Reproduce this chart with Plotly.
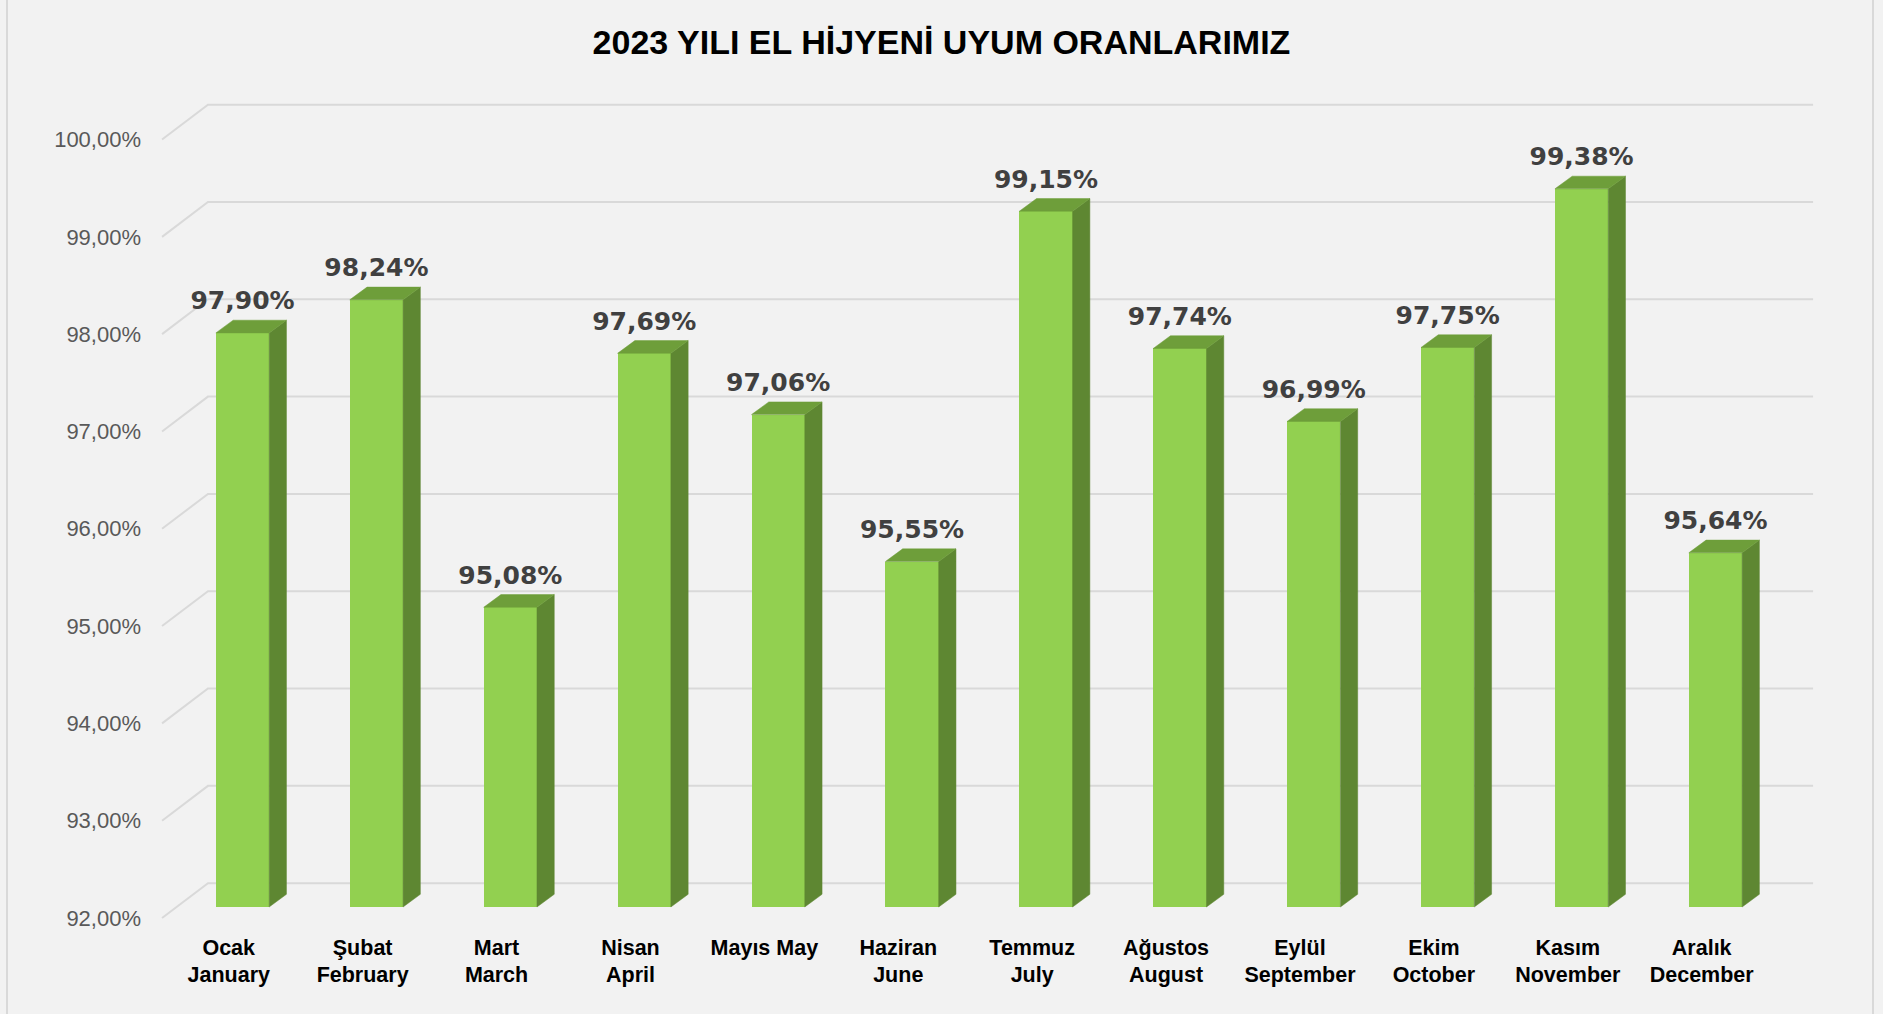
import plotly.graph_objects as go

# ---- data ----
months_tr = ["Ocak", "Şubat", "Mart", "Nisan", "Mayıs", "Haziran", "Temmuz",
             "Ağustos", "Eylül", "Ekim", "Kasım", "Aralık"]
months_en = ["January", "February", "March", "April", "May", "June", "July",
             "August", "September", "October", "November", "December"]
rates = [97.90, 98.24, 95.08, 97.69, 97.06, 95.55, 99.15, 97.74, 96.99, 97.75, 99.38, 95.64]
y_ticks = [92, 93, 94, 95, 96, 97, 98, 99, 100]
title_text = "2023 YILI EL HİJYENİ UYUM ORANLARIMIZ"

# ---- 3D look parameters (in axis units) ----
HW = 0.199        # half width of the front face
DDX = 0.129       # bar depth, horizontal
DDY = 0.1305      # bar depth, vertical
DFRONT = 0.113    # offset of the bar front from the front plane
WALL_DX = 0.343   # floor depth horizontal
WALL_DY = 0.358   # floor depth vertical
GRID_X0 = -0.601
GRID_X1 = 11.729
Y_BASE = y_ticks[0]

FRONT = "#92D050"
SIDE = "#5E8732"
TOP = "#6E9E3A"
GRID = "#D9D9D9"

xs = list(range(len(rates)))

fig = go.Figure()

# front faces
fig.add_trace(go.Bar(x=xs, y=[v - Y_BASE for v in rates], base=Y_BASE + DFRONT,
                     width=2 * HW, marker=dict(color=FRONT, line=dict(width=0)),
                     showlegend=False, hoverinfo="skip"))

# side faces
sx, sy = [], []
for i, v in zip(xs, rates):
    b = Y_BASE + DFRONT
    tp = v + DFRONT
    sx += [i + HW, i + HW + DDX, i + HW + DDX, i + HW, i + HW, None]
    sy += [b, b + DDY, tp + DDY, tp, b, None]
fig.add_trace(go.Scatter(x=sx, y=sy, mode="lines", fill="toself", fillcolor=SIDE,
                         line=dict(color=SIDE, width=0.5), hoverinfo="skip", showlegend=False))

# top faces
tx, ty = [], []
for i, v in zip(xs, rates):
    tp = v + DFRONT
    tx += [i - HW, i - HW + DDX, i + HW + DDX, i + HW, i - HW, None]
    ty += [tp, tp + DDY, tp + DDY, tp, tp, None]
fig.add_trace(go.Scatter(x=tx, y=ty, mode="lines", fill="toself", fillcolor=TOP,
                         line=dict(color=TOP, width=0.5), hoverinfo="skip", showlegend=False))

# data labels
fig.add_trace(go.Scatter(
    x=xs, y=[v + DFRONT + DDY + 0.175 for v in rates], mode="text",
    text=[f"{v:.2f}%".replace(".", ",") for v in rates],
    textposition="middle center",
    textfont=dict(family="DejaVu Sans", size=25, color="#404040", weight="bold"),
    hoverinfo="skip", showlegend=False))

# back-wall gridlines with the slanted floor segment (below the traces)
shapes = []
for t in y_ticks:
    shapes.append(dict(
        type="path", xref="x", yref="y", layer="below",
        path=f"M {GRID_X0},{t} L {GRID_X0 + WALL_DX},{t + WALL_DY} L {GRID_X1},{t + WALL_DY}",
        line=dict(color=GRID, width=2)))

PLOT_L, PLOT_R, PLOT_T, PLOT_B = 150, 1840, 76, 932
W, H = 1883, 1014
for px in (7, 1873):
    xp = (px - PLOT_L) / (PLOT_R - PLOT_L)
    shapes.append(dict(type="line", xref="paper", yref="paper", x0=xp, x1=xp,
                       y0=-0.2, y1=1.2, line=dict(color="#D0D0D0", width=1.5)))

fig.update_layout(
    width=W, height=H,
    margin=dict(l=PLOT_L, r=W - PLOT_R, t=PLOT_T, b=H - PLOT_B, pad=0),
    paper_bgcolor="#F2F2F2", plot_bgcolor="rgba(0,0,0,0)",
    title=dict(text=f"<b>{title_text}</b>", x=0.5, xref="container", xanchor="center",
               y=1 - 42 / H, yref="container", yanchor="middle",
               font=dict(family="Liberation Sans, Arial", size=34, color="#000000")),
    xaxis=dict(range=[-0.691, 11.93], showgrid=False, zeroline=False, showline=False,
               tickvals=[i - 0.103 for i in xs],
               ticktext=[f"<b>{a}<br>{b}</b>" if a != "Mayıs" else f"<b>{a} {b}</b>"
                         for a, b in zip(months_tr, months_en)],
               tickfont=dict(family="Liberation Sans, Arial", size=21.5, color="#000000"),
               ticks="", fixedrange=True),
    yaxis=dict(range=[91.856, 100.653], showgrid=False, zeroline=False, showline=False,
               tickvals=y_ticks,
               ticktext=[f"{t:.2f}%".replace(".", ",") for t in y_ticks],
               tickfont=dict(family="Liberation Sans, Arial", size=22, color="#595959"),
               ticks="", ticklabelstandoff=8, fixedrange=True),
    bargap=0, hovermode=False,
    shapes=shapes,
)

fig.write_html("out.html", config={"displayModeBar": False},
               post_script="document.body.style.margin='0px';document.body.style.overflow='hidden';")
